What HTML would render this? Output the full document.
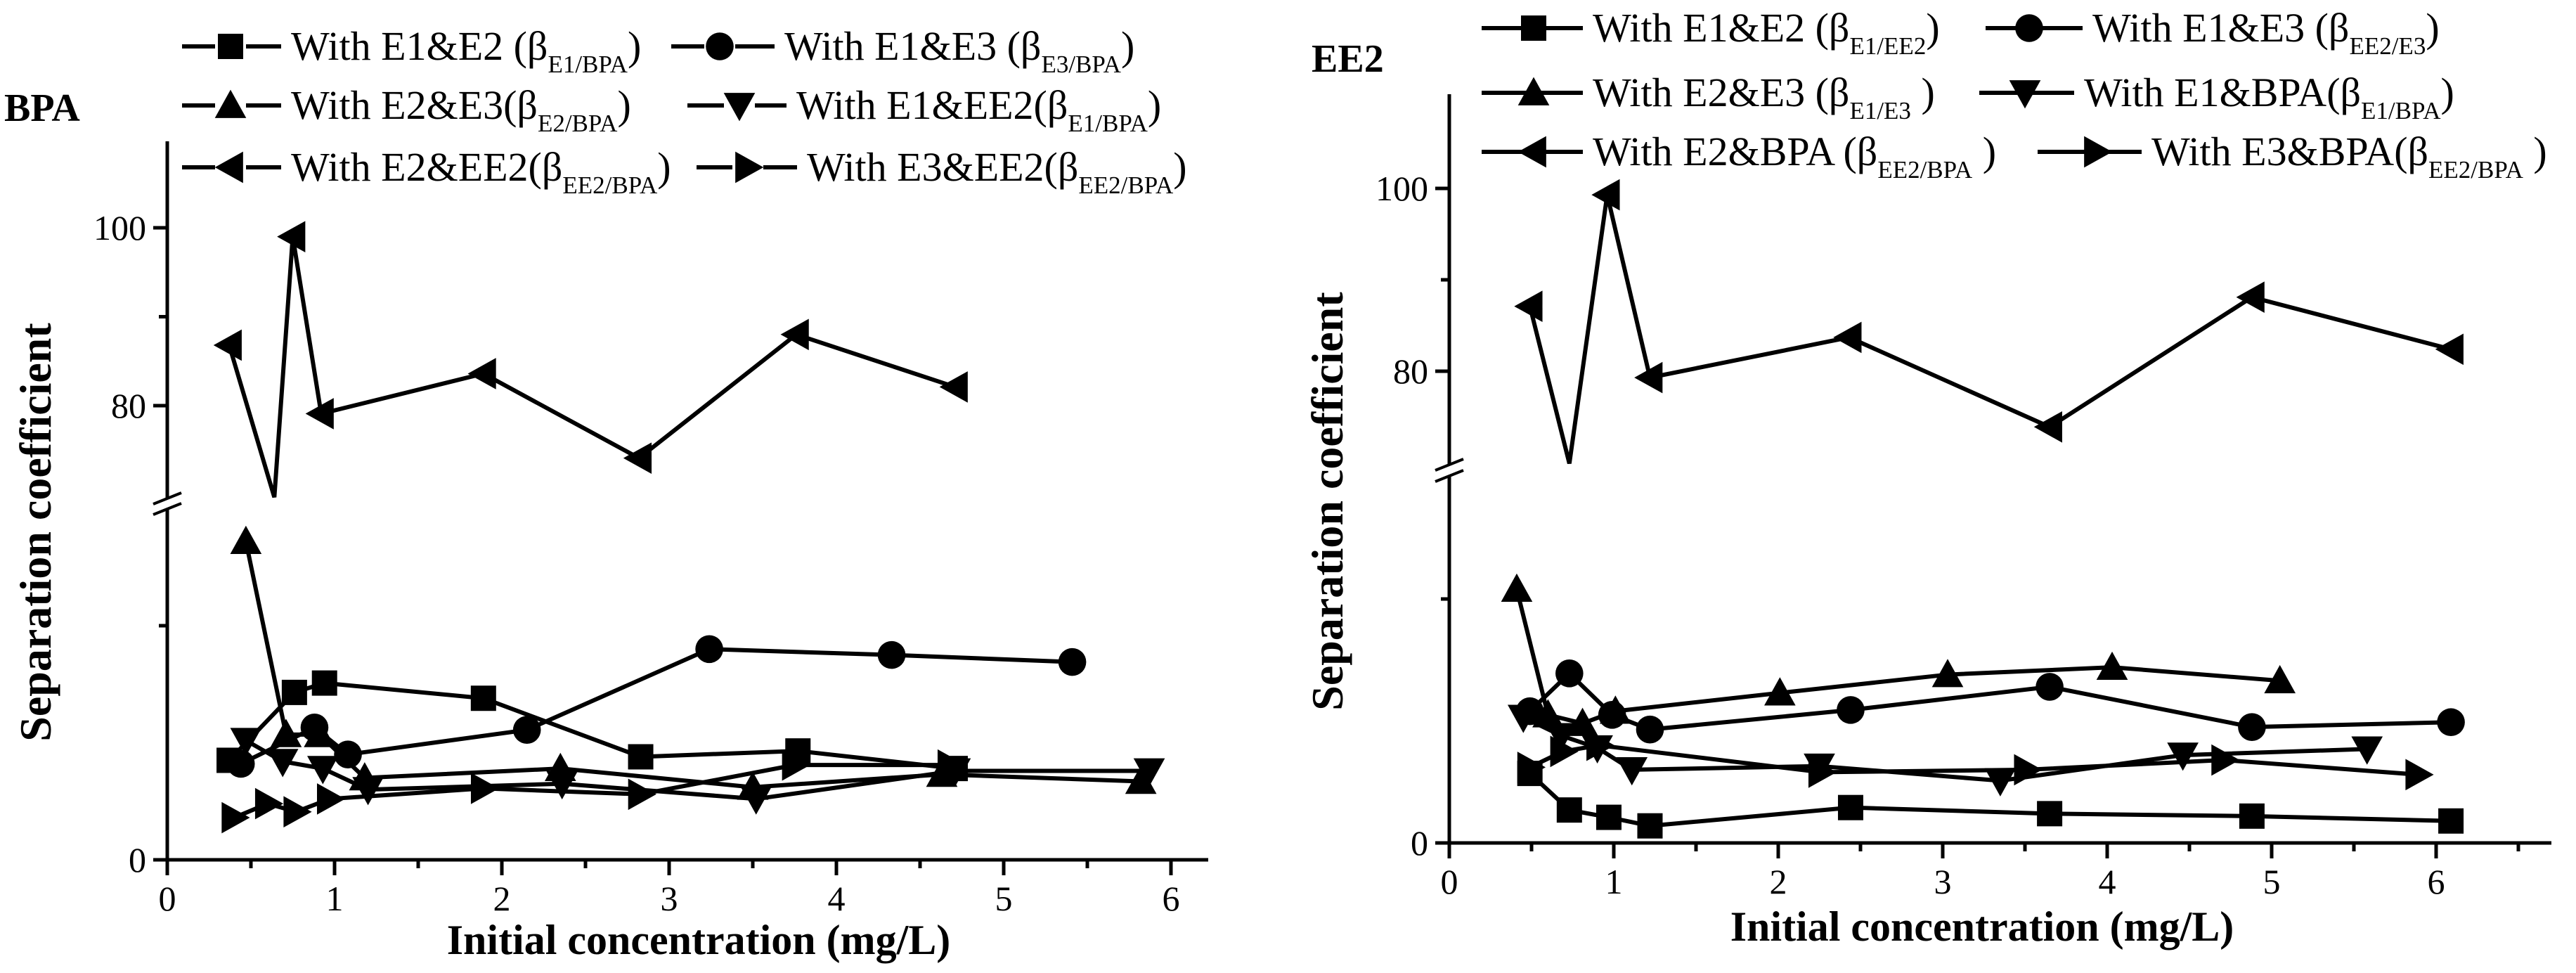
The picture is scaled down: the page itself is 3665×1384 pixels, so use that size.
<!DOCTYPE html>
<html><head><meta charset="utf-8"><style>
html,body{margin:0;padding:0;background:#fff;}
svg, svg text{font-family:"Liberation Serif","Times New Roman",serif;}
</style></head><body>
<svg id="chart" width="3665" height="1379" viewBox="0 0 3665 1379" xmlns="http://www.w3.org/2000/svg" font-family="Liberation Serif, serif">
<rect width="3665" height="1379" fill="#fff"/>
<g id="bpa"></g>
<g id="ee2"></g>
</svg>
<script>
const xTicks = [0,1,2,3,4,5,6];
const yTickLabels = ["0","80","100"];
// BPA panel data
const bpaSqX = [0.37,0.76,0.94,1.89,2.83,3.77,4.71];
const bpaSqY = [8.5,14.3,15.1,13.8,8.8,9.3,7.8];
const bpaCiX = [0.44,0.88,1.08,2.15,3.24,4.33,5.41];
const bpaCiY = [8.2,11.3,9.0,11.1,18.0,17.5,16.9];
const bpaUpX = [0.47,0.71,0.91,1.18,2.35,3.50,4.63,5.82];
const bpaUpY = [27.2,10.7,10.7,7.0,7.8,6.2,7.3,6.7];
const bpaDnX = [0.47,0.69,0.93,1.20,2.36,3.52,4.71,5.87];
const bpaDnY = [10.2,8.4,7.8,6.0,6.5,5.2,7.6,7.6];
const bpaLtX = [0.37,0.64,0.75,0.92,1.89,2.82,3.76,4.71];
const bpaLtY = [86.8,69.7,99.0,79.1,83.6,74.1,88.0,82.1];
const bpaRtX = [0.40,0.60,0.77,0.97,1.89,2.83,3.75,4.68];
const bpaRtY = [3.6,4.8,4.1,5.2,6.1,5.6,8.1,8.1];
// EE2 panel data
const eeSqX = [0.49,0.73,0.97,1.22,2.44,3.65,4.88,6.09];
const eeSqY = [5.7,2.7,2.1,1.4,2.9,2.4,2.2,1.8];
const eeCiX = [0.49,0.73,0.99,1.22,2.44,3.65,4.88,6.09];
const eeCiY = [10.8,13.9,10.5,9.3,10.9,12.8,9.5,9.9];
const eeUpX = [0.41,0.60,0.81,1.01,2.01,3.03,4.03,5.05];
const eeUpY = [20.8,10.5,9.8,10.8,12.3,13.8,14.4,13.3];
const eeDnX = [0.45,0.68,0.90,1.11,2.25,3.35,4.46,5.58];
const eeDnY = [10.3,8.8,7.8,6.0,6.3,5.1,7.2,7.7];
const eeLtX = [0.49,0.73,0.96,1.22,2.43,3.65,4.88,6.09];
const eeLtY = [87.1,69.9,99.3,79.3,83.7,73.9,88.1,82.4];
const eeRtX = [0.49,0.69,0.91,2.26,3.51,4.71,5.89];
const eeRtY = [6.2,7.5,8.0,5.8,6.0,6.8,5.6];

const NS="http://www.w3.org/2000/svg";
const FF="'Liberation Serif', 'Times New Roman', serif";
function mk(tag,attrs,parent){const e=document.createElementNS(NS,tag);for(const k in attrs)e.setAttribute(k,attrs[k]);if(tag==='text')e.setAttribute('font-family',FF);parent.appendChild(e);return e;}

function marker(g,type,cx,cy,s){
  let e;
  if(type==='sq') e=mk('rect',{x:cx-s/2,y:cy-s/2,width:s,height:s,fill:'#000'},g);
  else if(type==='ci') e=mk('circle',{cx:cx,cy:cy,r:s*0.55,fill:'#000'},g);
  else {
    const h=s*0.62; let p;
    if(type==='up') p=[[cx,cy-h],[cx+h,cy+h*0.8],[cx-h,cy+h*0.8]];
    if(type==='dn') p=[[cx,cy+h],[cx+h,cy-h*0.8],[cx-h,cy-h*0.8]];
    if(type==='lt') p=[[cx-h,cy],[cx+h*0.8,cy-h],[cx+h*0.8,cy+h]];
    if(type==='rt') p=[[cx+h,cy],[cx-h*0.8,cy-h],[cx-h*0.8,cy+h]];
    e=mk('polygon',{points:p.map(q=>q.join(',')).join(' '),fill:'#000'},g);
  }
  return e;
}

function panel(g,c){
  const X=v=>c.x0+v*c.xs;
  const YL=v=>c.y0-v*c.ls;
  const YU=v=>c.y100+(100-v)*c.us;
  const ya=mk('line',{x1:c.x0,y1:c.top,x2:c.x0,y2:c.y0+3,stroke:'#000','stroke-width':5},g);
  
  
  const xa=mk('line',{x1:c.x0-20,y1:c.y0,x2:c.xr,y2:c.y0,stroke:'#000','stroke-width':5},g);
  
  
  mk('rect',{x:c.x0-10,y:c.bU,width:20,height:c.bL-c.bU,fill:'#fff'},g);
  mk('line',{x1:c.x0-20,y1:c.bU+8,x2:c.x0+20,y2:c.bU-8,stroke:'#000','stroke-width':4},g);
  const bm=mk('line',{x1:c.x0-20,y1:c.bL+8,x2:c.x0+20,y2:c.bL-8,stroke:'#000','stroke-width':4},g);
  
  
  xTicks.forEach(t=>{
    mk('line',{x1:X(t),y1:c.y0,x2:X(t),y2:c.y0+22,stroke:'#000','stroke-width':5},g);
    if(X(t+0.5)<c.xr) mk('line',{x1:X(t+0.5),y1:c.y0,x2:X(t+0.5),y2:c.y0+12,stroke:'#000','stroke-width':5},g);
    const tl=mk('text',{x:X(t),y:c.y0+72,'font-size':50,'text-anchor':'middle'},g);
    tl.textContent=String(t);
    
    
  });
  const yt=[[YL(0),yTickLabels[0]],[YU(80),yTickLabels[1]],[YU(100),yTickLabels[2]]];
  yt.forEach(([y,l])=>{
    mk('line',{x1:c.x0-20,y1:y,x2:c.x0,y2:y,stroke:'#000','stroke-width':5},g);
    const tl=mk('text',{x:c.x0-30,y:y+17,'font-size':50,'text-anchor':'end'},g);
    tl.textContent=l;
    
    
  });
  mk('line',{x1:c.x0-12,y1:YU(90),x2:c.x0,y2:YU(90),stroke:'#000','stroke-width':5},g);
  mk('line',{x1:c.x0-12,y1:YL(20),x2:c.x0,y2:YL(20),stroke:'#000','stroke-width':5},g);
  c.series.forEach(s=>{
    const sg=mk('g',{},g);
    
    
    const Y=s.upper?YU:YL;
    const raw=s.x.map((v,i)=>[X(v),Y(s.y[i])]);
    let pts=[];
    raw.forEach((p,i)=>{
      if(s.upper && p[1]>c.bU){
        const prev=raw[i-1], next=raw[i+1];
        if(prev){const t=(c.bU-prev[1])/(p[1]-prev[1]);pts.push([prev[0]+t*(p[0]-prev[0]),c.bU]);}
        if(next){const t=(c.bU-next[1])/(p[1]-next[1]);pts.push([next[0]+t*(p[0]-next[0]),c.bU]);}
      } else pts.push(p);
    });
    mk('polyline',{points:pts.map(p=>p.join(',')).join(' '),fill:'none',stroke:'#000','stroke-width':6,'stroke-linejoin':'miter'},sg);
    raw.forEach((p,i)=>{
      if(s.upper && s.y[i]<c.uMin) return;
      const m=marker(sg,s.type,p[0],p[1],36);
      
      
    });
  });
  c.legend.forEach(L=>{
    const lg=mk('g',{},g);
    
    
    if(c.dashed){
      mk('line',{x1:L.lx,y1:L.y,x2:L.mx-22,y2:L.y,stroke:'#000','stroke-width':6},lg);
      mk('line',{x1:L.mx+22,y1:L.y,x2:L.tx-14,y2:L.y,stroke:'#000','stroke-width':6},lg);
    } else mk('line',{x1:L.lx,y1:L.y,x2:L.tx-14,y2:L.y,stroke:'#000','stroke-width':6},lg);
    marker(lg,L.type,L.mx,L.y,36);
    const t=mk('text',{x:L.tx,y:L.y+19,'font-size':58},lg);
    const a=document.createElementNS(NS,'tspan');a.textContent=L.a;t.appendChild(a);
    const b=document.createElementNS(NS,'tspan');b.setAttribute('font-size','35');b.setAttribute('dy','18');b.textContent=L.sub;t.appendChild(b);
    const d=document.createElementNS(NS,'tspan');d.setAttribute('dy','-18');d.textContent=L.c;t.appendChild(d);
  });
  const pt=mk('text',{x:c.px,y:c.py,'font-size':56,'font-weight':'bold'},g);
  pt.textContent=c.title;
  
  
  const yT=mk('text',{x:0,y:0,'font-size':64,'font-weight':'bold','text-anchor':'middle',transform:`translate(${c.ytx},${c.yty}) rotate(-90)`},g);
  yT.textContent='Separation coefficient';
  
  
  const xT=mk('text',{x:c.xtx,y:c.xty,'font-size':60,'font-weight':'bold','text-anchor':'middle'},g);
  xT.textContent='Initial concentration (mg/L)';
  
  
}

panel(document.getElementById('bpa'),{
  x0:238,xs:238,xr:1719,y0:1223,ls:16.65,y100:324,us:12.65,top:201,bU:709,bL:724,uMin:70,dashed:true,
  title:'BPA',px:6,py:172,ytx:72,yty:757,xtx:994,xty:1357,
  series:[
    {name:'e1-e2',type:'sq',x:bpaSqX,y:bpaSqY},
    {name:'e1-e3',type:'ci',x:bpaCiX,y:bpaCiY},
    {name:'e2-e3',type:'up',x:bpaUpX,y:bpaUpY},
    {name:'e1-ee2',type:'dn',x:bpaDnX,y:bpaDnY},
    {name:'e2-ee2',type:'lt',x:bpaLtX,y:bpaLtY,upper:true},
    {name:'e3-ee2',type:'rt',x:bpaRtX,y:bpaRtY}
  ],
  legend:[
    {type:'sq',lx:259,mx:328,tx:414,y:66,a:'With E1&E2 (β',sub:'E1/BPA',c:')'},
    {type:'ci',lx:955,mx:1024,tx:1116,y:66,a:'With E1&E3 (β',sub:'E3/BPA',c:')'},
    {type:'up',lx:259,mx:328,tx:414,y:150,a:'With E2&E3(β',sub:'E2/BPA',c:')'},
    {type:'dn',lx:978,mx:1052,tx:1133,y:150,a:'With E1&EE2(β',sub:'E1/BPA',c:')'},
    {type:'lt',lx:259,mx:328,tx:414,y:238,a:'With E2&EE2(β',sub:'EE2/BPA',c:')'},
    {type:'rt',lx:991,mx:1064,tx:1148,y:238,a:'With E3&EE2(β',sub:'EE2/BPA',c:')'}
  ]
});
panel(document.getElementById('ee2'),{
  x0:2062,xs:234,xr:3630,y0:1199,ls:17.35,y100:268,us:13,top:134,bU:661,bL:677,uMin:70,dashed:false,
  title:'EE2',px:1866,py:102,ytx:1910,yty:713,xtx:2820,xty:1338,
  series:[
    {name:'e1-e2',type:'sq',x:eeSqX,y:eeSqY},
    {name:'e1-e3',type:'ci',x:eeCiX,y:eeCiY},
    {name:'e2-e3',type:'up',x:eeUpX,y:eeUpY},
    {name:'e1-bpa',type:'dn',x:eeDnX,y:eeDnY},
    {name:'e2-bpa',type:'lt',x:eeLtX,y:eeLtY,upper:true},
    {name:'e3-bpa',type:'rt',x:eeRtX,y:eeRtY}
  ],
  legend:[
    {type:'sq',lx:2108,mx:2182,tx:2266,y:40,a:'With E1&E2 (β',sub:'E1/EE2',c:')'},
    {type:'ci',lx:2825,mx:2887,tx:2977,y:40,a:'With E1&E3 (β',sub:'EE2/E3',c:')'},
    {type:'up',lx:2108,mx:2182,tx:2266,y:132,a:'With E2&E3 (β',sub:'E1/E3',c:' )'},
    {type:'dn',lx:2816,mx:2881,tx:2965,y:132,a:'With E1&BPA(β',sub:'E1/BPA',c:')'},
    {type:'lt',lx:2108,mx:2182,tx:2266,y:216,a:'With E2&BPA (β',sub:'EE2/BPA',c:' )'},
    {type:'rt',lx:2899,mx:2983,tx:3061,y:216,a:'With E3&BPA(β',sub:'EE2/BPA',c:' )'}
  ]
});
</script>
</body></html>
